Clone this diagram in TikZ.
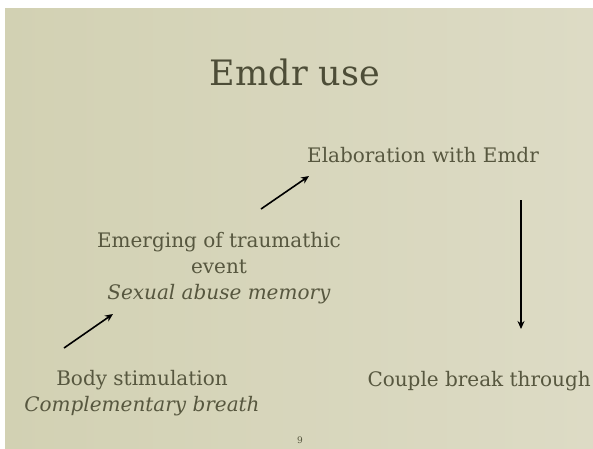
\documentclass[tikz,border=0pt]{standalone}
\usepackage{fontspec}
\setmainfont{DejaVu Serif}
\usetikzlibrary{arrows.meta, positioning}
\definecolor{paperL}{HTML}{D2D1B3}
\definecolor{paperR}{HTML}{DDDBC5}
\definecolor{titleInk}{HTML}{4D4D37}
\definecolor{textInk}{HTML}{57573F}

\begin{document}
\begin{tikzpicture}[x=1pt, y=-1pt,
    slidetitle/.style={font=\fontsize{35}{42}\selectfont, text=titleInk,
        anchor=base, inner sep=0pt},
    step label/.style={font=\fontsize{20}{26}\selectfont, text=textInk,
        align=center, anchor=base, inner sep=0pt},
    flow/.style={-{Stealth[length=8pt,width=7pt]}, line width=1.6pt}]
    \useasboundingbox (0,0) rectangle (593,448);
    \fill[white] (0,0) rectangle (593,448);
    \shade[left color=paperL, right color=paperR] (5,8) rectangle (593,448);

    \node[slidetitle] (title) at (295,85) {Emdr use};

    % multi-line labels sit on the baseline of their last line
    \node[step label] (elab) at (423,162) {Elaboration with Emdr};
    \node[step label] (emerg) at (219,299)
        {Emerging of traumathic\\event\\\textit{Sexual abuse memory}};
    \node[step label] (body) at (142,411)
        {Body stimulation\\\textit{Complementary breath}};
    \node[step label, anchor=base east] (couple) at (591,386) {Couple break through};
    \node[font=\fontsize{9}{10}\selectfont, text=textInk, anchor=base] (page) at (300,443) {9};

    % arrows
    \coordinate (b1) at (64,348);
    \coordinate (e1) at (113,314);
    \coordinate (b2) at (261,209);
    \coordinate (e2) at (309,176);
    \coordinate (b3) at (521,200);
    \coordinate (e3) at (521,329);
    \draw[flow] (b1) -- (e1);
    \draw[flow] (b2) -- (e2);
    \draw[flow] (b3) -- (e3);

\end{tikzpicture}
\end{document}
